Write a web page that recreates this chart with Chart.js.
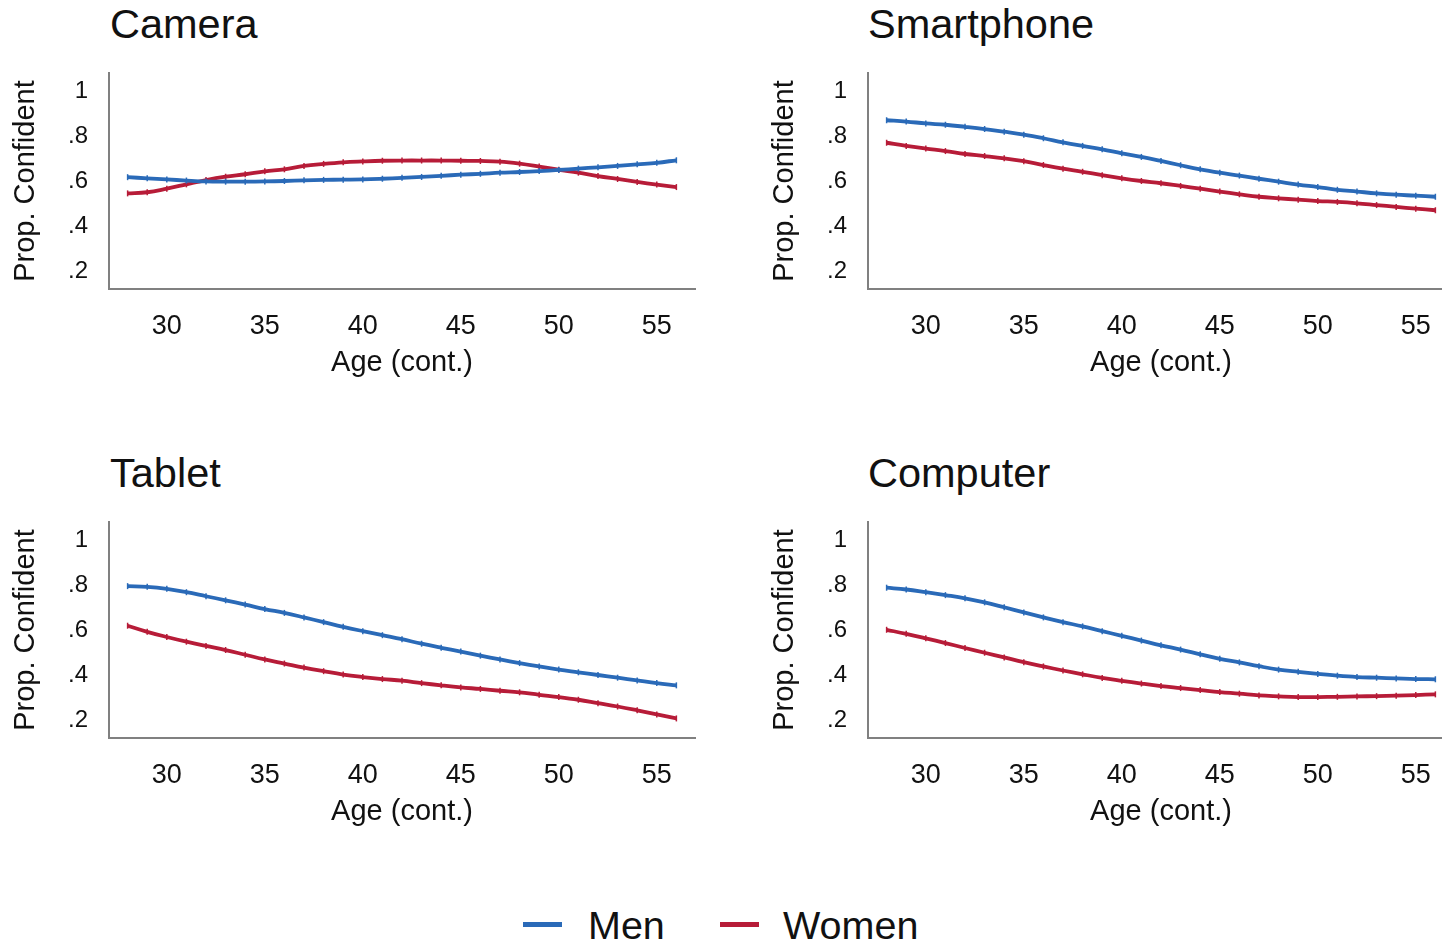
<!DOCTYPE html>
<html>
<head>
<meta charset="utf-8">
<title>Prop. Confident by age</title>
<script src="https://cdn.jsdelivr.net/npm/chart.js@4.4.1/dist/chart.umd.min.js"></script>
<style>
  html, body { margin: 0; padding: 0; background: #fff; overflow: hidden; }
  body { width: 1442px; height: 943px; position: relative; font-family: "Liberation Sans", Arial, sans-serif; color: #111; }
  canvas { position: absolute; }
  .title { position: absolute; font-size: 41.5px; line-height: 41.5px; white-space: nowrap; }
  .key { position: absolute; height: 5px; width: 39px; }
  .keytext { position: absolute; font-size: 39.5px; line-height: 39.5px; white-space: nowrap; }
</style>
</head>
<body>
<div class="title" style="left:110px; top:3px;">Camera</div>
<div class="title" style="left:868px; top:3px;">Smartphone</div>
<div class="title" style="left:110px; top:452px;">Tablet</div>
<div class="title" style="left:868px; top:452px;">Computer</div>

<canvas id="camera" width="720" height="400" style="left:0; top:0;"></canvas>
<canvas id="smartphone" width="720" height="400" style="left:759px; top:0;"></canvas>
<canvas id="tablet" width="720" height="400" style="left:0; top:449px;"></canvas>
<canvas id="computer" width="720" height="400" style="left:759px; top:449px;"></canvas>

<!-- legend -->
<div class="key" style="left:523px; top:922px; background:#2a6ab8;"></div>
<div class="keytext" style="left:588px; top:906px;">Men</div>
<div class="key" style="left:720px; top:922px; background:#b71c38;"></div>
<div class="keytext" style="left:783px; top:906px;">Women</div>

<script>
// Ages (x values)
var ages = [28, 29, 30, 31, 32, 33, 34, 35, 36, 37, 38, 39, 40, 41, 42,
            43, 44, 45, 46, 47, 48, 49, 50, 51, 52, 53, 54, 55, 56];

// Tick labels
var xTicks = [30, 35, 40, 45, 50, 55];
var yTicks = [0.2, 0.4, 0.6, 0.8, 1];
var yTickLabels = ['.2', '.4', '.6', '.8', '1'];

// Series
var cameraMen = [.617, .612, .607, .602, .598, .597, .597, .598, .600, .603, .605, .606, .607, .610, .614,
                 .618, .623, .628, .632, .637, .640, .644, .649, .655, .661, .667, .674, .681, .692];
var cameraWomen = [.545, .550, .566, .585, .604, .619, .630, .643, .652, .667, .676, .683, .687, .690, .691,
                   .691, .691, .690, .689, .686, .677, .664, .650, .637, .622, .609, .596, .584, .573];

var smartMen = [.870, .864, .856, .850, .841, .831, .819, .806, .790, .772, .756, .741, .723, .707, .689,
                .670, .652, .637, .624, .610, .597, .584, .573, .561, .553, .545, .539, .535, .530];
var smartWomen = [.770, .756, .744, .733, .720, .711, .701, .688, .671, .655, .641, .626, .612, .600, .590,
                  .578, .566, .553, .541, .530, .523, .517, .511, .507, .501, .493, .485, .477, .470];

var tabletMen = [.795, .792, .783, .768, .750, .732, .713, .693, .676, .656, .635, .614, .595, .577, .559,
                 .539, .521, .504, .486, .469, .453, .438, .424, .412, .400, .388, .376, .364, .354];
var tabletWomen = [.619, .592, .569, .548, .529, .511, .490, .469, .451, .433, .417, .402, .391, .382, .375,
                   .364, .354, .345, .338, .330, .323, .312, .302, .290, .275, .260, .243, .225, .207];

var compMen = [.788, .780, .768, .755, .741, .723, .701, .678, .656, .635, .616, .595, .574, .553, .532,
               .513, .492, .472, .456, .439, .424, .414, .405, .397, .391, .388, .385, .382, .381];
var compWomen = [.601, .583, .563, .542, .520, .499, .478, .457, .438, .420, .403, .387, .374, .362, .351,
                 .342, .333, .324, .317, .309, .305, .302, .302, .303, .305, .306, .308, .311, .314];

var blue = '#2a6ab8';
var red = '#b71c38';
var font = '"Liberation Sans", Arial, sans-serif';

function series(label, vals, color) {
    return {
        label: label,
        data: ages.map(function (a, i) { return { x: a, y: vals[i] }; }),
        borderColor: color,
        backgroundColor: color,
        borderWidth: 3.8,
        tension: 0.4,
        pointStyle: 'line',
        rotation: 90,
        pointRadius: 3,
        pointBorderWidth: 1.5,
        pointBorderColor: color,
        fill: false
    };
}

// one panel
function makePanel(id, men, women) {
    var ctx = document.getElementById(id).getContext('2d');
    return new Chart(ctx, {
        type: 'line',
        data: {
            datasets: [series('Men', men, blue), series('Women', women, red)]
        },
        options: {
            responsive: false,
            animation: false,
            layout: { padding: { top: 73, right: 25, left: 0, bottom: 0 } },
            plugins: {
                legend: { display: false },
                tooltip: { enabled: false }
            },
            scales: {
                x: {
                    type: 'linear',
                    min: 27.05,
                    max: 56.95,
                    afterFit: function (s) { s.height = 111; },
                    afterBuildTicks: function (s) {
                        s.ticks = xTicks.map(function (v) { return { value: v }; });
                    },
                    grid: { display: false, drawTicks: false },
                    border: { display: true, color: '#808080', width: 2 },
                    ticks: {
                        padding: 21,
                        color: '#111',
                        font: { family: font, size: 27 },
                        maxRotation: 0
                    },
                    title: {
                        display: true,
                        text: 'Age (cont.)',
                        color: '#111',
                        font: { family: font, size: 29 },
                        padding: { top: 0, bottom: 20 }
                    }
                },
                y: {
                    min: 0.12,
                    max: 1.08,
                    afterFit: function (s) { s.width = 109; },
                    afterBuildTicks: function (s) {
                        s.ticks = yTicks.map(function (v) { return { value: v }; });
                    },
                    grid: { display: false, drawTicks: false },
                    border: { display: true, color: '#808080', width: 2 },
                    ticks: {
                        padding: 21,
                        color: '#111',
                        font: { family: font, size: 24 },
                        callback: function (v) {
                            var k = yTicks.indexOf(Math.round(v * 10) / 10);
                            return k >= 0 ? yTickLabels[k] : '';
                        }
                    },
                    title: {
                        display: true,
                        text: 'Prop. Confident',
                        color: '#111',
                        font: { family: font, size: 29 },
                        padding: { top: 9, bottom: 0 }
                    }
                }
            }
        }
    });
}

makePanel('camera', cameraMen, cameraWomen);
makePanel('smartphone', smartMen, smartWomen);
makePanel('tablet', tabletMen, tabletWomen);
makePanel('computer', compMen, compWomen);
</script>
</body>
</html>
